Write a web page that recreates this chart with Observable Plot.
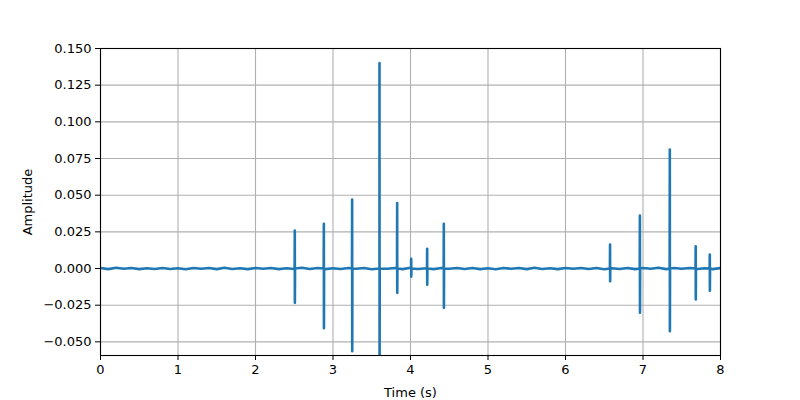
<!DOCTYPE html>
<html>
<head>
<meta charset="utf-8">
<script src="https://cdn.jsdelivr.net/npm/d3@7"></script>
<script src="https://cdn.jsdelivr.net/npm/@observablehq/plot@0.6"></script>
<style>
  html, body { margin: 0; padding: 0; background: #fff; }
  #chart { width: 800px; height: 400px; }
</style>
</head>
<body>
<div id="chart"></div>
<script>
// Burst (spike) events: time, positive peak, negative peak
const spikeTimes = [2.507, 2.882, 3.247, 3.600, 3.828, 4.009, 4.215, 4.430, 6.575, 6.960, 7.346, 7.680, 7.862];
const spikeMax   = [0.0259, 0.0305, 0.0470, 0.1400, 0.0446, 0.0066, 0.0134, 0.0305, 0.0164, 0.0361, 0.0811, 0.0152, 0.0095];
const spikeMin   = [-0.0234, -0.0407, -0.0564, -0.0800, -0.0166, -0.0055, -0.0110, -0.0268, -0.0086, -0.0302, -0.0427, -0.0211, -0.0152];

// Low-level background noise, sampled every 0.1 s
const noiseTimes = d3.range(0, 81).map(i => i / 10);
const noiseValues = [
  0.0003, -0.0004, 0.0005, -0.0002, 0.0003, -0.0004, 0.0002, -0.0003, 0.0004, -0.0003,
  0.0002, -0.0005, 0.0004, -0.0002, 0.0003, -0.0004, 0.0005, -0.0003, 0.0002, -0.0004,
  0.0003, -0.0002, 0.0004, -0.0004, 0.0002, -0.0003, 0.0005, -0.0003, 0.0004, -0.0004,
  0.0002, -0.0003, 0.0004, -0.0002, 0.0003, -0.0005, 0.0004, -0.0002, 0.0003, -0.0004,
  0.0005, -0.0003, 0.0002, -0.0004, 0.0003, -0.0002, 0.0004, -0.0003, 0.0003, -0.0004,
  0.0002, -0.0005, 0.0004, -0.0002, 0.0003, -0.0004, 0.0005, -0.0003, 0.0002, -0.0004,
  0.0004, -0.0002, 0.0003, -0.0003, 0.0004, -0.0005, 0.0002, -0.0003, 0.0004, -0.0004,
  0.0003, -0.0002, 0.0005, -0.0004, 0.0003, -0.0002, 0.0004, -0.0003, 0.0002, -0.0004,
  0.0003
];

const xTicks = [0, 1, 2, 3, 4, 5, 6, 7, 8];
const yTicks = [-0.050, -0.025, 0.000, 0.025, 0.050, 0.075, 0.100, 0.125, 0.150];

// Build the waveform table
const points = noiseTimes.map((t, i) => ({t, a: noiseValues[i]}));
spikeTimes.forEach((t, i) => {
  points.push({t: t - 0.002, a: 0});
  points.push({t: t, a: spikeMax[i]});
  points.push({t: t + 0.001, a: spikeMin[i]});
  points.push({t: t + 0.003, a: 0});
});
points.sort((p, q) => p.t - q.t);

const font = "DejaVu Sans, sans-serif";

const chart = Plot.plot({
  width: 800,
  height: 400,
  marginLeft: 100,
  marginRight: 80,
  marginTop: 48,
  marginBottom: 45,
  style: {fontFamily: font, fontSize: "13px", background: "#fff", color: "#000"},
  x: {domain: [0, 8]},
  y: {domain: [-0.0593, 0.15]},
  marks: [
    Plot.gridX(xTicks, {stroke: "#b0b0b0", strokeOpacity: 1, strokeWidth: 1.1}),
    Plot.gridY(yTicks, {stroke: "#b0b0b0", strokeOpacity: 1, strokeWidth: 1.1}),
    Plot.line(points, {x: "t", y: "a", stroke: "#1f77b4", strokeWidth: 2.6, clip: true}),
    Plot.frame({stroke: "#000", strokeWidth: 1.1}),
    Plot.axisX(xTicks, {tickSize: 5, tickPadding: 4, tickFormat: d3.format("d"), label: null, fontSize: 13}),
    Plot.axisY(yTicks, {tickSize: 5, tickPadding: 4, tickFormat: d3.format(".3f"), label: null, fontSize: 13}),
    Plot.text(["Time (s)"], {frameAnchor: "bottom", dy: 41, fontSize: 13}),
    Plot.text(["Amplitude"], {frameAnchor: "left", dx: -73, rotate: -90, textAnchor: "middle", fontSize: 13})
  ]
});
document.getElementById("chart").appendChild(chart);
</script>
</body>
</html>
